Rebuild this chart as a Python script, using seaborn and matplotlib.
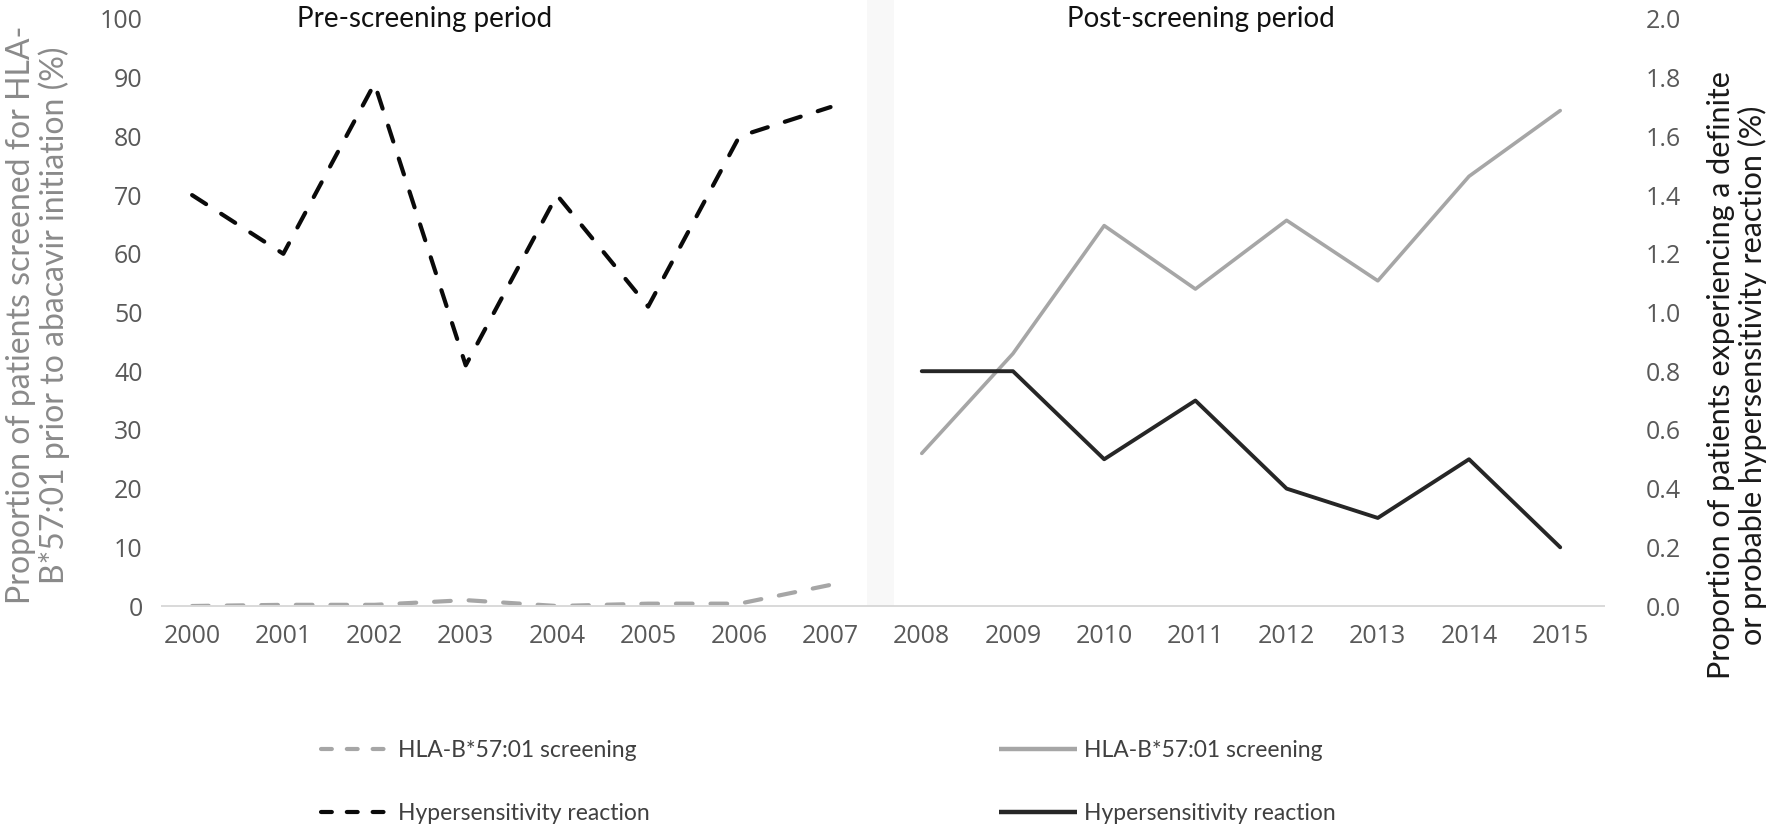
import matplotlib
matplotlib.use("Agg")
import matplotlib.pyplot as plt
import seaborn as sns
import pandas as pd
from matplotlib.lines import Line2D

# ---------------- data ----------------
pre_years = [2000, 2001, 2002, 2003, 2004, 2005, 2006, 2007]
post_years = [2008, 2009, 2010, 2011, 2012, 2013, 2014, 2015]
pre_screening = [0.0, 0.2, 0.2, 1.0, 0.0, 0.4, 0.4, 3.6]          # % (left axis)
pre_hsr = [1.40, 1.20, 1.78, 0.82, 1.40, 1.02, 1.60, 1.70]        # % (right axis)
post_screening = [26.0, 43.0, 64.8, 54.0, 65.7, 55.4, 73.2, 84.4]  # % (left axis)
post_hsr = [0.8, 0.8, 0.5, 0.7, 0.4, 0.3, 0.5, 0.2]               # % (right axis)
all_years = pre_years + post_years
left_ticks = [0, 10, 20, 30, 40, 50, 60, 70, 80, 90, 100]
right_ticks = [0.0, 0.2, 0.4, 0.6, 0.8, 1.0, 1.2, 1.4, 1.6, 1.8, 2.0]
legend_labels = ["HLA-B*57:01 screening", "Hypersensitivity reaction"]
period_titles = ["Pre-screening period", "Post-screening period"]
left_label = "Proportion of patients screened for HLA-\nB*57:01 prior to abacavir initiation (%)"
right_label = "Proportion of patients experiencing a definite\nor probable hypersensitivity reaction (%)"

pre_df = pd.DataFrame({"year": pre_years, "screen": pre_screening, "hsr": pre_hsr})
post_df = pd.DataFrame({"year": post_years, "screen": post_screening, "hsr": post_hsr})

# ---------------- style ----------------
sns.set_theme(style="white")
plt.rcParams["font.family"] = ["Lato", "DejaVu Sans"]

GRAY = "#a6a6a6"
BLACK = "#0a0a0a"
DARK = "#262626"
TICK_C = "#595959"
DASH = (0, (4.0, 4.3))
LEG_DASH = (0, (2.6, 3.6))

fig = plt.figure(figsize=(17.72, 8.25), dpi=100)
ax = fig.add_axes([162 / 1772, 1 - 606 / 825, (1604 - 162) / 1772, (606 - 19) / 825])
ax2 = ax.twinx()

# shaded separator band
ax.axvspan(2007.40, 2007.70, ymin=0, ymax=1.035, color="#f8f8f8", lw=0, clip_on=False, zorder=0)

sns.lineplot(data=pre_df, x="year", y="screen", ax=ax, color=GRAY, lw=3.0,
             linestyle=DASH, dash_capstyle="round", legend=False)
sns.lineplot(data=post_df, x="year", y="screen", ax=ax, color=GRAY, lw=2.6,
             solid_capstyle="round", legend=False)
sns.lineplot(data=pre_df, x="year", y="hsr", ax=ax2, color=BLACK, lw=3.0,
             linestyle=DASH, dash_capstyle="round", legend=False)
sns.lineplot(data=post_df, x="year", y="hsr", ax=ax2, color=DARK, lw=2.8,
             solid_capstyle="round", legend=False)

for a in (ax, ax2):
    a.set_xlim(1999.67, 2015.48)
    a.set_xlabel("")
    a.set_ylabel("")
    for s in a.spines.values():
        s.set_visible(False)
    a.grid(False)
    a.patch.set_visible(False)

ax.set_ylim(0, 100)
ax2.set_ylim(0, 2)
ax.set_yticks(left_ticks)
ax.set_yticklabels([str(t) for t in left_ticks])
ax2.set_yticks(right_ticks)
ax2.set_yticklabels([f"{t:.1f}" for t in right_ticks])
ax.set_xticks(all_years)
ax.set_xticklabels([str(y) for y in all_years])
ax.spines["bottom"].set_visible(True)
ax.spines["bottom"].set_color("#d9d9d9")
ax.spines["bottom"].set_linewidth(1.4)

ax.tick_params(axis="y", length=0, pad=14, colors=TICK_C)
ax.tick_params(axis="x", length=0, pad=13, colors=TICK_C)
ax2.tick_params(axis="y", length=0, pad=30, colors=TICK_C)
for lab in ax.get_xticklabels() + ax.get_yticklabels() + ax2.get_yticklabels():
    lab.set_fontfamily(["Open Sans", "DejaVu Sans"])
    lab.set_fontsize(18)

# period titles
ax.text(2002.55, 100, period_titles[0], ha="center", va="center", fontsize=20, color="#111111")
ax.text(2011.06, 100, period_titles[1], ha="center", va="center", fontsize=20, color="#111111")

# axis titles
fig.text(38 / 1772, 1 - 315 / 825, left_label, rotation=90, ha="center", va="center",
         multialignment="center", fontsize=23, color="#8a8a8a", linespacing=1.1)
fig.text(1737 / 1772, 1 - 375 / 825, right_label, rotation=90, ha="center", va="center",
         multialignment="center", fontsize=22, color="#1a1a1a", linespacing=1.12)

# legends
h_pre = [Line2D([], [], color=GRAY, lw=3.0, linestyle=LEG_DASH, dash_capstyle="round"),
         Line2D([], [], color=BLACK, lw=3.0, linestyle=LEG_DASH, dash_capstyle="round")]
h_post = [Line2D([], [], color=GRAY, lw=3.2, solid_capstyle="butt"),
          Line2D([], [], color=DARK, lw=3.2, solid_capstyle="butt")]
leg_kw = dict(frameon=False, fontsize=16.5,
              labelspacing=1.85, labelcolor="#404040", borderaxespad=0, borderpad=0)
leg1 = fig.legend(h_pre, legend_labels, loc="upper left", handlelength=2.75, handletextpad=0.62,
                  bbox_to_anchor=(321 / 1772, 1 - 740 / 825), **leg_kw)
leg2 = fig.legend(h_post, legend_labels, loc="upper left", handlelength=3.4, handletextpad=0.33,
                  bbox_to_anchor=(999 / 1772, 1 - 740 / 825), **leg_kw)

fig.savefig("out.png", dpi=100)
